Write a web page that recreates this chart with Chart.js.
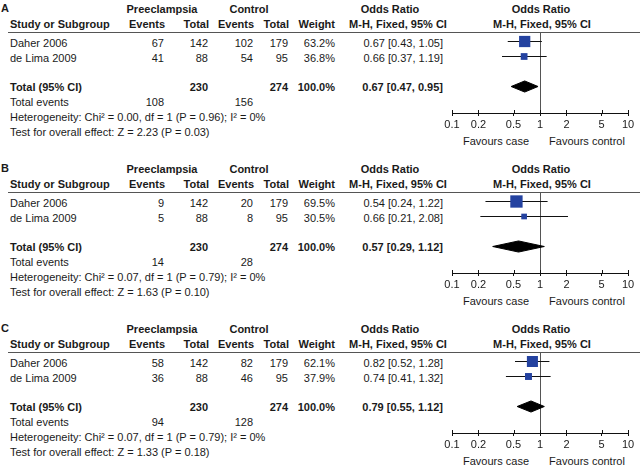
<!DOCTYPE html>
<html>
<head>
<meta charset="utf-8">
<script src="https://cdn.jsdelivr.net/npm/chart.js@4.4.1/dist/chart.umd.min.js"></script>
<style>
  html, body { margin: 0; padding: 0; background: #fff; }
  #page { position: relative; width: 640px; height: 465px; overflow: hidden;
          font-family: "Liberation Sans", Arial, sans-serif; font-size: 11px; color: #1a1a1a; }
  .t { position: absolute; height: 14px; line-height: 14px; white-space: nowrap; }
  .b { font-weight: bold; }
  .rule { position: absolute; left: 8px; width: 632px; height: 0; border-top: 1.5px solid #555; }
  .plot { position: absolute; left: 430px; width: 210px; height: 105px; }
</style>
</head>
<body>
<div id="page"></div>
<script>
const FONT = '"Liberation Sans", Arial, sans-serif';

// data
const panels = ["A", "B", "C"];
const studies = ["Daher 2006", "de Lima 2009"];
const caseTotals = [142, 88];
const ctrlTotals = [179, 95];
const caseEvents = [[67, 41], [9, 5], [58, 36]];
const ctrlEvents = [[102, 54], [20, 8], [82, 46]];
const weights = [[63.2, 36.8], [69.5, 30.5], [62.1, 37.9]];
const orEst = [[0.67, 0.66], [0.54, 0.66], [0.82, 0.74]];
const orLo = [[0.43, 0.37], [0.24, 0.21], [0.52, 0.41]];
const orHi = [[1.05, 1.19], [1.22, 2.08], [1.28, 1.32]];
const pooledEst = [0.67, 0.57, 0.79];
const pooledLo = [0.47, 0.29, 0.55];
const pooledHi = [0.95, 1.12, 1.12];
const totalCaseEvents = [108, 14, 94];
const totalCtrlEvents = [156, 28, 128];
const hetText = [
  "Heterogeneity: Chi² = 0.00, df = 1 (P = 0.96); I² = 0%",
  "Heterogeneity: Chi² = 0.07, df = 1 (P = 0.79); I² = 0%",
  "Heterogeneity: Chi² = 0.07, df = 1 (P = 0.79); I² = 0%"
];
const effectText = [
  "Test for overall effect: Z = 2.23 (P = 0.03)",
  "Test for overall effect: Z = 1.63 (P = 0.10)",
  "Test for overall effect: Z = 1.33 (P = 0.18)"
];
const xTicks = [0.1, 0.2, 0.5, 1, 2, 5, 10];

const page = document.getElementById("page");
const fmt = (v) => v.toFixed(2);
const ciText = (e, l, h) => `${fmt(e)} [${fmt(l)}, ${fmt(h)}]`;

function txt(s, x, y, align, bold) {
  const d = document.createElement("div");
  d.className = "t" + (bold ? " b" : "");
  d.textContent = s;
  if (align === "right") {
    d.style.left = (x - 300) + "px"; d.style.width = "300px"; d.style.textAlign = "right";
  } else if (align === "center") {
    d.style.left = (x - 150) + "px"; d.style.width = "300px"; d.style.textAlign = "center";
  } else {
    d.style.left = x + "px";
  }
  d.style.top = (y - 7) + "px";
  page.appendChild(d);
}

// vertical line at OR = 1 plus the upper half of the axis ticks
const refLine = {
  id: "refLine",
  beforeDatasetsDraw(chart) {
    const { ctx, chartArea, scales } = chart;
    const x = Math.round(scales.x.getPixelForValue(1)) + 0.5;
    ctx.save();
    ctx.strokeStyle = "#555";
    ctx.lineWidth = 1;
    ctx.beginPath();
    ctx.moveTo(x, chartArea.top);
    ctx.lineTo(x, chartArea.bottom);
    ctx.stroke();
    ctx.restore();
  },
  afterDraw(chart) {
    const { ctx, chartArea, scales } = chart;
    ctx.save();
    ctx.strokeStyle = "#111";
    ctx.lineWidth = 1;
    xTicks.forEach((v) => {
      const x = Math.round(scales.x.getPixelForValue(v)) + 0.5;
      ctx.beginPath();
      ctx.moveTo(x, chartArea.bottom);
      ctx.lineTo(x, chartArea.bottom - 3);
      ctx.stroke();
    });
    ctx.restore();
  }
};

const sideFor = (w) => 0.17 * w + 0.5; // square side (px) from weight

panels.forEach((name, p) => {
  const top = p * 160;

  // table text
  txt(name, 1, top + 8, "left", true);
  txt("Preeclampsia", 162, top + 9, "center", true);
  txt("Control", 249, top + 9, "center", true);
  txt("Odds Ratio", 390, top + 9, "center", true);
  txt("Odds Ratio", 541, top + 9, "center", true);

  txt("Study or Subgroup", 10, top + 24, "left", true);
  txt("Events", 165, top + 24, "right", true);
  txt("Total", 209, top + 24, "right", true);
  txt("Events", 254, top + 24, "right", true);
  txt("Total", 289, top + 24, "right", true);
  txt("Weight", 335, top + 24, "right", true);
  txt("M-H, Fixed, 95% CI", 398, top + 24, "center", true);
  txt("M-H, Fixed, 95% CI", 542, top + 24, "center", true);

  const rule = document.createElement("div");
  rule.className = "rule";
  rule.style.top = (top + 32) + "px";
  page.appendChild(rule);

  studies.forEach((s, i) => {
    const y = top + 43 + i * 15;
    txt(s, 10, y, "left");
    txt(String(caseEvents[p][i]), 164, y, "right");
    txt(String(caseTotals[i]), 208, y, "right");
    txt(String(ctrlEvents[p][i]), 253, y, "right");
    txt(String(ctrlTotals[i]), 288, y, "right");
    txt(weights[p][i].toFixed(1) + "%", 335, y, "right");
    txt(ciText(orEst[p][i], orLo[p][i], orHi[p][i]), 443, y, "right");
  });

  const sum = (a) => a.reduce((m, v) => m + v, 0);
  txt("Total (95% CI)", 10, top + 87, "left", true);
  txt(String(sum(caseTotals)), 208, top + 87, "right", true);
  txt(String(sum(ctrlTotals)), 288, top + 87, "right", true);
  txt(sum(weights[p]).toFixed(1) + "%", 335, top + 87, "right", true);
  txt(ciText(pooledEst[p], pooledLo[p], pooledHi[p]), 443, top + 87, "right", true);

  txt("Total events", 10, top + 102, "left");
  txt(String(totalCaseEvents[p]), 164, top + 102, "right");
  txt(String(totalCtrlEvents[p]), 253, top + 102, "right");
  txt(hetText[p], 10, top + 117, "left");
  txt(effectText[p], 10, top + 132, "left");

  txt("Favours case", 496, top + 141, "center");
  txt("Favours control", 587, top + 141, "center");

  // forest plot
  const box = document.createElement("div");
  box.className = "plot";
  box.style.top = (top + 32) + "px";
  const canvas = document.createElement("canvas");
  box.appendChild(canvas);
  page.appendChild(box);

  const pooledRow = 4;
  const h = 0.37;
  const datasets = [{
    data: orEst[p].map((v, i) => ({ x: v, y: i + 1 })),
    pointStyle: "rect",
    pointRadius: weights[p].map((w) => sideFor(w) / Math.SQRT2),
    backgroundColor: "#2442a0",
    borderWidth: 0,
    order: 0
  }];
  studies.forEach((s, i) => {
    datasets.push({
      data: [{ x: orLo[p][i], y: i + 1 }, { x: orHi[p][i], y: i + 1 }],
      showLine: true, borderColor: "#111", borderWidth: 1, pointRadius: 0, order: 1
    });
  });
  datasets.push({
    data: [
      { x: pooledLo[p], y: pooledRow },
      { x: pooledEst[p], y: pooledRow - h },
      { x: pooledHi[p], y: pooledRow },
      { x: pooledEst[p], y: pooledRow + h },
      { x: pooledLo[p], y: pooledRow }
    ],
    showLine: true, fill: "shape", backgroundColor: "#000", borderColor: "#000",
    borderWidth: 1, pointRadius: 0, tension: 0, order: 1
  });

  new Chart(canvas, {
    type: "scatter",
    data: { datasets },
    plugins: [refLine],
    options: {
      responsive: true,
      maintainAspectRatio: false,
      animation: false,
      events: [],
      layout: { autoPadding: false, padding: { left: 22, right: 12, top: 0, bottom: 0 } },
      plugins: { legend: { display: false }, tooltip: { enabled: false } },
      scales: {
        x: {
          type: "logarithmic",
          min: 0.1,
          max: 10,
          afterBuildTicks: (s) => { s.ticks = xTicks.map((v) => ({ value: v })); },
          afterFit: (s) => { s.height = 24; },
          ticks: {
            callback: (v) => String(v),
            color: "#1a1a1a",
            font: { family: FONT, size: 11 },
            padding: 2,
            maxRotation: 0,
            autoSkip: false
          },
          grid: { drawOnChartArea: false, tickLength: 3, color: "#111" },
          border: { color: "#111", width: 1 }
        },
        y: {
          type: "linear",
          reverse: true,
          min: 1 - 9.5 / 15,
          max: 1 + 71.5 / 15,
          display: false
        }
      }
    }
  });
});
</script>
</body>
</html>
